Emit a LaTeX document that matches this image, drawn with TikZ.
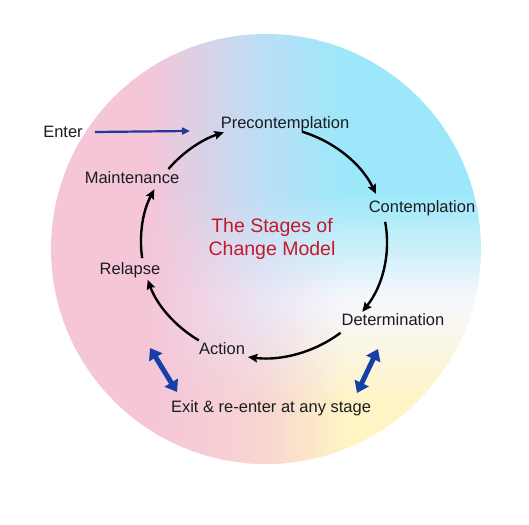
\documentclass[tikz,border=0pt]{standalone}
\usepackage{fontspec}
\setmainfont{Liberation Sans}
\usetikzlibrary{arrows.meta}
\definecolor{bgpink}{RGB}{244,198,216}
\definecolor{bgcyan}{RGB}{156,232,250}
\definecolor{bgyellow}{RGB}{255,244,196}
\definecolor{bgwhiter}{RGB}{246,247,251}
\definecolor{mtop}{RGB}{188,222,246}
\definecolor{mmid}{RGB}{234,228,243}
\definecolor{mbot}{RGB}{248,212,210}
\definecolor{txt}{RGB}{28,28,32}
\definecolor{titlered}{RGB}{196,24,44}
\definecolor{enterblue}{RGB}{30,58,150}
\definecolor{dblblue}{RGB}{22,64,168}
\begin{document}
\begin{tikzpicture}[x=1pt,y=1pt,
  stage/.style={text=txt, font=\fontsize{16.5}{19}\selectfont, inner sep=0pt},
  titletext/.style={text=titlered, font=\fontsize{19.5}{23}\selectfont, align=center, inner sep=0pt},
  cyclearrow/.style={line width=2.4pt, black, -{Stealth[length=9.5pt,width=8.5pt,inset=1.5pt]}},
  enterarrow/.style={line width=2.2pt, enterblue, -{Triangle[length=8pt,width=7pt]}},
  dblarrow/.style={line width=5pt, dblblue, {Triangle[length=11pt,width=15pt]}-{Triangle[length=11pt,width=15pt]}}]
\useasboundingbox (0,0) rectangle (529,524);
% background disc, built from thin horizontal bands
\coordinate (D) at (266,275);
\begin{scope}
  \clip (D) circle[radius=215pt];
  \foreach \yy in {56,60,...,492} {
    \pgfmathsetmacro{\cw}{max(0,min(1,(\yy+2-225)/105))*100}
    \pgfmathsetmacro{\yw}{max(0,min(1,(215-\yy-2)/95))*100}
    \colorlet{tmpA}{bgcyan!\cw!bgwhiter}
    \colorlet{Rc}{bgyellow!\yw!tmpA}
    \colorlet{tmpB}{mtop!\cw!mmid}
    \colorlet{Mc}{mbot!\yw!tmpB}
    \fill[bgpink] (40,\yy) rectangle (150.5,\yy+4.4);
    \shade[left color=bgpink, right color=Mc] (150,\yy) rectangle (260.5,\yy+4.4);
    \shade[left color=Mc, right color=Rc] (260,\yy) rectangle (345.5,\yy+4.4);
    \fill[Rc] (345,\yy) rectangle (490,\yy+4.4);
  }
\end{scope}
% stage names
\node[stage] (enter) at (63,392) {Enter};
\node[stage] (pre) at (285,399.5) {Precontemplation};
\node[stage] (main) at (132,346) {Maintenance};
\node[stage] (cont) at (422,316) {Contemplation};
\node[stage] (rel) at (130,253.5) {Relapse};
\node[stage] (det) at (393,204) {Determination};
\node[stage] (act) at (222,175) {Action};
\node[stage] (exit) at (271,115.5) {Exit \& re-enter at any stage};
\node[titletext] (title) at (272,285) {The Stages of\\Change Model};
% cycle
\coordinate (O) at (264,282);
\draw[cyclearrow] ([shift={(72:123pt and 116pt)}]O) arc[start angle=72, end angle=24.5, x radius=123pt, y radius=116pt];
\draw[cyclearrow] ([shift={(10:123pt and 116pt)}]O) arc[start angle=10, end angle=-37, x radius=123pt, y radius=116pt];
\draw[cyclearrow] ([shift={(-51.5:123pt and 116pt)}]O) arc[start angle=-51.5, end angle=-97.5, x radius=123pt, y radius=116pt];
\draw[cyclearrow] ([shift={(-122:123pt and 116pt)}]O) arc[start angle=-122, end angle=-161, x radius=123pt, y radius=116pt];
\draw[cyclearrow] ([shift={(-172:123pt and 116pt)}]O) arc[start angle=-172, end angle=-207, x radius=123pt, y radius=116pt];
\draw[cyclearrow] ([shift={(141:123pt and 116pt)}]O) arc[start angle=141, end angle=109, x radius=123pt, y radius=116pt];
% enter arrow
\coordinate (enterend) at (190,393);
\draw[enterarrow] ([xshift=12pt]enter.east) -- (enterend);
% exit arrows
\coordinate (la) at (150,176);
\coordinate (lb) at (177,132);
\coordinate (ra) at (378,175);
\coordinate (rb) at (357,131);
\draw[dblarrow] (la) -- (lb);
\draw[dblarrow] (ra) -- (rb);
\end{tikzpicture}
\end{document}
